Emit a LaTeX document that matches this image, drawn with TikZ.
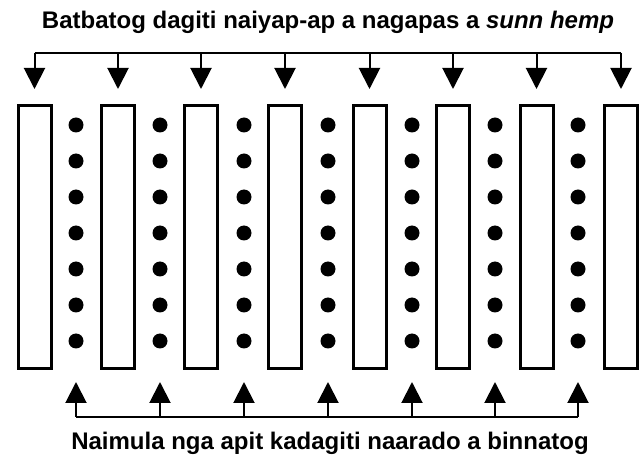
\documentclass[tikz,border=0pt]{standalone}
\usepackage{fontspec}
\setmainfont{Liberation Sans}
\usetikzlibrary{arrows.meta}
\begin{document}
\begin{tikzpicture}[x=1pt,y=-1pt,
  strip/.style={draw=black,line width=3pt,fill=white,minimum width=33pt,minimum height=263pt,inner sep=0pt},
  seed/.style={circle,fill=black,minimum size=15pt,inner sep=0pt},
  bracket/.style={line width=2pt,draw=black},
  arr/.style={bracket,-{Triangle[length=21pt,width=21pt]}},
  lbl/.style={font=\bfseries\fontsize{24}{27}\selectfont,inner sep=0pt}]
\useasboundingbox (0,0) rectangle (641,457);
% strips
\foreach \i/\x in {1/34.5,2/118,3/201,4/285,5/369.5,6/453,7/536.5,8/621}{
  \node[strip] (r\i) at (\x,237.5) {};
  \coordinate (t\i) at (\x,53);
}
% seed rows
\foreach \i/\x in {1/76,2/160,3/244,4/328,5/412,6/495,7/578}{
  \foreach \j in {0,...,6}{
    \node[seed] (d\i-\j) at (\x,125+36*\j) {};
  }
  \coordinate (b\i) at (\x,417);
}
% top bracket
\draw[bracket] (t1) -- (t8);
\foreach \i in {1,...,8}{
  \draw[arr] (t\i) -- ++(0,36);
}
% bottom bracket
\draw[bracket] (b1) -- (b7);
\foreach \i in {1,...,7}{
  \draw[arr] (b\i) -- ++(0,-35);
}
\node[lbl] (top) at (328,22) {Batbatog dagiti naiyap-ap a nagapas a \textit{sunn hemp}};
\node[lbl] (bot) at (330,443) {Naimula nga apit kadagiti naarado a binnatog};
\end{tikzpicture}
\end{document}
